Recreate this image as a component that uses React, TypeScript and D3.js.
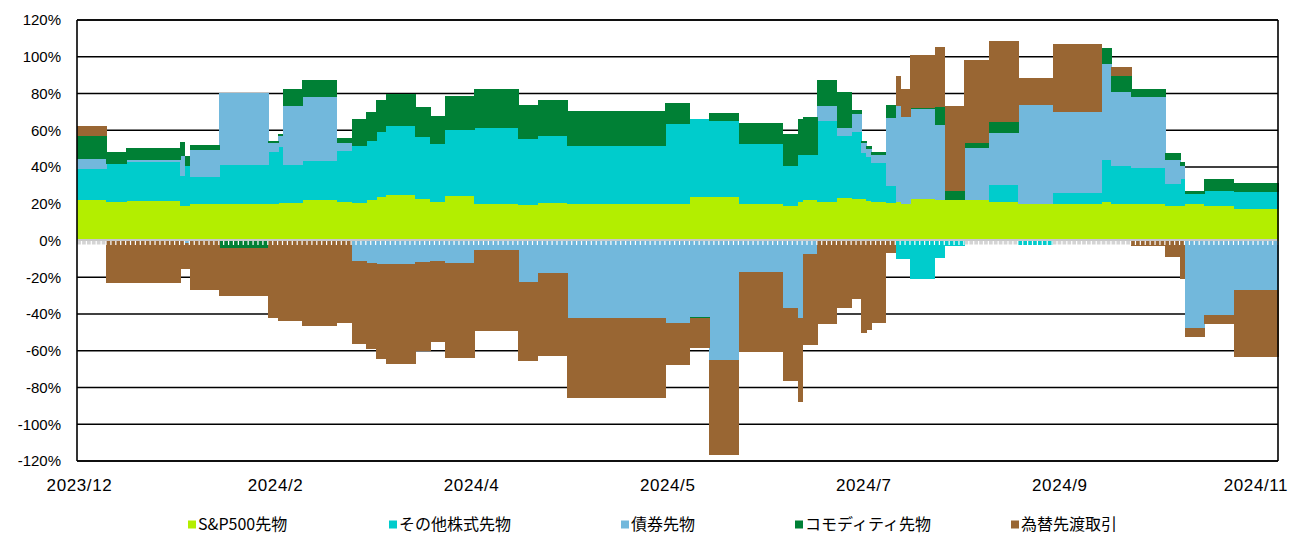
import React from "react";
import * as d3 from "d3";

// legend / series
const seriesKeys = ["sp", "other", "bond", "commodity", "fx"];
const seriesNames = ["S&P500先物", "その他株式先物", "債券先物", "コモディティ先物", "為替先渡取引"];
const colors = ["#b3ee00", "#00cccc", "#72b8dc", "#008035", "#996633"];

// x axis labels, one every 40 business days
const tickLabels = ["2023/12", "2024/2", "2024/4", "2024/5", "2024/7", "2024/9", "2024/11"];
const tickEvery = 40;
const yTicks = [120, 100, 80, 60, 40, 20, 0, -20, -40, -60, -80, -100, -120];

// number of business days each position level was held
const runDays = [6, 4, 11, 1, 1, 6, 10, 2, 1, 4, 7, 3, 3, 2, 2, 6, 3, 3, 6, 9, 4, 6, 20, 5, 4, 6, 9, 3, 1, 3, 4, 3, 2, 1, 1, 3, 2, 1, 2, 5, 2, 4, 5, 6, 7, 10, 2, 4, 7, 3, 1, 4, 6, 9];

// exposure (% of net assets) for each run
const sp = [22.3, 21, 21.4, 18.7, 18.7, 19.6, 19.6, 20, 20.5, 20.5, 22, 20.9, 20.5, 22, 23.6, 24.5, 22.5, 20.9, 24.1, 20.1, 19.2, 20.5, 20, 19.6, 23.6, 23.6, 20, 18.8, 20.9, 22, 21, 22.9, 22.7, 22.5, 21.5, 20.9, 20.5, 21, 20, 22.7, 21.8, 21.8, 21.8, 21, 20, 20, 21, 20, 19.6, 18.8, 18.8, 20.1, 18.8, 16.9];
const other = [16.7, 20.4, 21.2, 16.3, 22.1, 14.9, 21.4, 28, 30.3, 20.5, 21.5, 27.7, 31.2, 32.4, 35.6, 37.7, 33.9, 31.7, 36.3, 41.2, 36.1, 36.3, 31.3, 43.9, 42.6, 41.7, 32.6, 21.6, 25.5, 24.8, 43.9, 34.2, 36.3, 25.2, 23.9, 21.4, 9.1, -10.3, -9.8, -21.2, -9.4, -3, 0, 9.1, -2.2, 5.6, 23, 20.4, 19.9, 11.7, 14.4, 5.3, 8.4, 9.4];
const bond = [5.6, 0, 1.1, 11, -1.5, 14.5, 39.3, 5, 6, 32.1, 34.7, 4.5, -11.3, -12.2, -13, -12.7, -11.9, -11, -12.5, -5.3, -22.7, -17.6, -42, -44.8, -41.5, -65.3, -17.2, -36.6, -42, -7.6, 8.2, 4.2, 9.6, 5.1, 4.5, 4.5, 37.2, 52, 47.3, 48.6, 40.8, 0, 28.6, 28.5, 54, 44.2, 51.8, 40.3, 38.5, 13.5, 7.2, -47.5, -40.8, -26.7];
const commodity = [12.5, 6.7, 6.7, 7.5, 5.1, 2.9, -4, 1.4, 1, 9.1, 9.2, 2.8, 14.5, 15.4, 17.2, 17.8, 16.4, 15.1, 18.1, 20.9, 18.7, 19.9, 19.1, 11.4, -0.5, 4.2, 11.1, 17.3, 19.6, 20.3, 14, 19.4, 2.3, 1.2, 1.4, 1.2, 7.2, 0, 0, 1, 9.9, 5.4, 2.4, 5.8, 0, 0, 9.1, 8.7, 4.2, 3.7, 2.2, 1.8, 6, 5.1];
const fx = [5.1, -23, -23, -15.4, -13.9, -26.7, -26.3, -42, -44, -43.9, -46.3, -44.8, -44.9, -47.1, -51.4, -54.3, -48.3, -44.3, -51.3, -44.1, -43, -45.4, -43.8, -23.2, -16.4, -51.2, -43.4, -40, -46, -49, -45.7, -36.6, -31.7, -50.2, -48.5, -44.8, -6.7, 16.4, 14.9, 28.5, 32.9, 45.9, 45.7, 44.1, 14.5, 37.2, 0, 4.9, -3, -9, -21.2, -4.9, -4.6, -36.8];

const legendX = [188, 389, 621, 795, 1011];

const W = 1289, H = 535;
const margin = { left: 77, right: 11, top: 20, bottom: 74 };

type Row = { i: number; [k: string]: number };

const rows: Row[] = [];
runDays.forEach((n, s) => {
  for (let k = 0; k < n; k++) {
    rows.push({ i: rows.length, sp: sp[s], other: other[s], bond: bond[s], commodity: commodity[s], fx: fx[s] });
  }
});

export default function App() {
  const x0 = margin.left, x1 = W - margin.right;
  const y0 = margin.top, y1 = H - margin.bottom;

  const x = d3.scaleBand<number>().domain(rows.map((d) => d.i)).range([x0, x1]).padding(0);
  const y = d3.scaleLinear().domain([-120, 120]).range([y1, y0]);

  const stack = d3.stack<Row>().keys(seriesKeys).offset(d3.stackOffsetDiverging)(rows);
  const bw = x.bandwidth();
  const zy = y(0);

  return (
    <svg width={W} height={H} style={{ position: "absolute", left: 0, top: 0, background: "#fff" }}
      fontFamily="'Liberation Sans', Arial, sans-serif">
      {/* gridlines */}
      {yTicks.map((t) => (
        <line key={t} x1={x0} x2={x1} y1={y(t)} y2={y(t)} stroke="#000" strokeWidth={1.6} />
      ))}
      {/* zero strip */}
      <rect x={x0} y={zy} width={x1 - x0} height={4} fill="#d4d4d4" />
      {/* bars */}
      {stack.map((layer, li) => (
        <g key={seriesKeys[li]} fill={colors[li]} shapeRendering="crispEdges">
          {layer.map((d, j) => {
            const top = y(Math.max(d[0], d[1]));
            const h = Math.abs(y(d[0]) - y(d[1]));
            if (h < 0.01) return null;
            return <rect key={j} x={x(d.data.i)!} y={top} width={bw + 0.6} height={h} />;
          })}
        </g>
      ))}
      {/* zero line with tick marks */}
      <line x1={x0} x2={x1} y1={zy - 0.5} y2={zy - 0.5} stroke="#c8c8c8" strokeWidth={2} />
      {rows.map((d) => (
        <rect key={d.i} x={x(d.i)! + bw - 1} y={zy + 0.5} width={1.2} height={4} fill="#fff" />
      ))}
      {/* frame */}
      <line x1={x0} x2={x0} y1={y0} y2={y1} stroke="#000" strokeWidth={1.6} />
      <line x1={x1} x2={x1} y1={y0} y2={y1} stroke="#000" strokeWidth={1.6} />
      <line x1={x0} x2={x1} y1={y0} y2={y0} stroke="#000" strokeWidth={1.6} />
      <line x1={x0} x2={x1} y1={y1} y2={y1} stroke="#000" strokeWidth={1.6} />
      {/* y axis labels */}
      {yTicks.map((t) => (
        <text key={t} x={61} y={y(t)} dy="0.35em" textAnchor="end" fontSize={15} fill="#000">{`${t}%`}</text>
      ))}
      {/* x axis labels */}
      {tickLabels.map((lab, k) => {
        const i = k * tickEvery;
        return (
          <text key={lab} x={x(i)! + bw / 2} y={491} textAnchor="middle" fontSize={17} letterSpacing={0.6} fill="#000">{lab}</text>
        );
      })}
      {/* legend */}
      {seriesNames.map((n, k) => (
        <g key={n} transform={`translate(${legendX[k]},524.5)`}>
          <rect x={0} y={-4} width={8} height={8} fill={colors[k]} />
          <text x={10} y={5.5} fontSize={16} fontFamily="'Noto Sans CJK JP', sans-serif" fill="#000">{n}</text>
        </g>
      ))}
    </svg>
  );
}
